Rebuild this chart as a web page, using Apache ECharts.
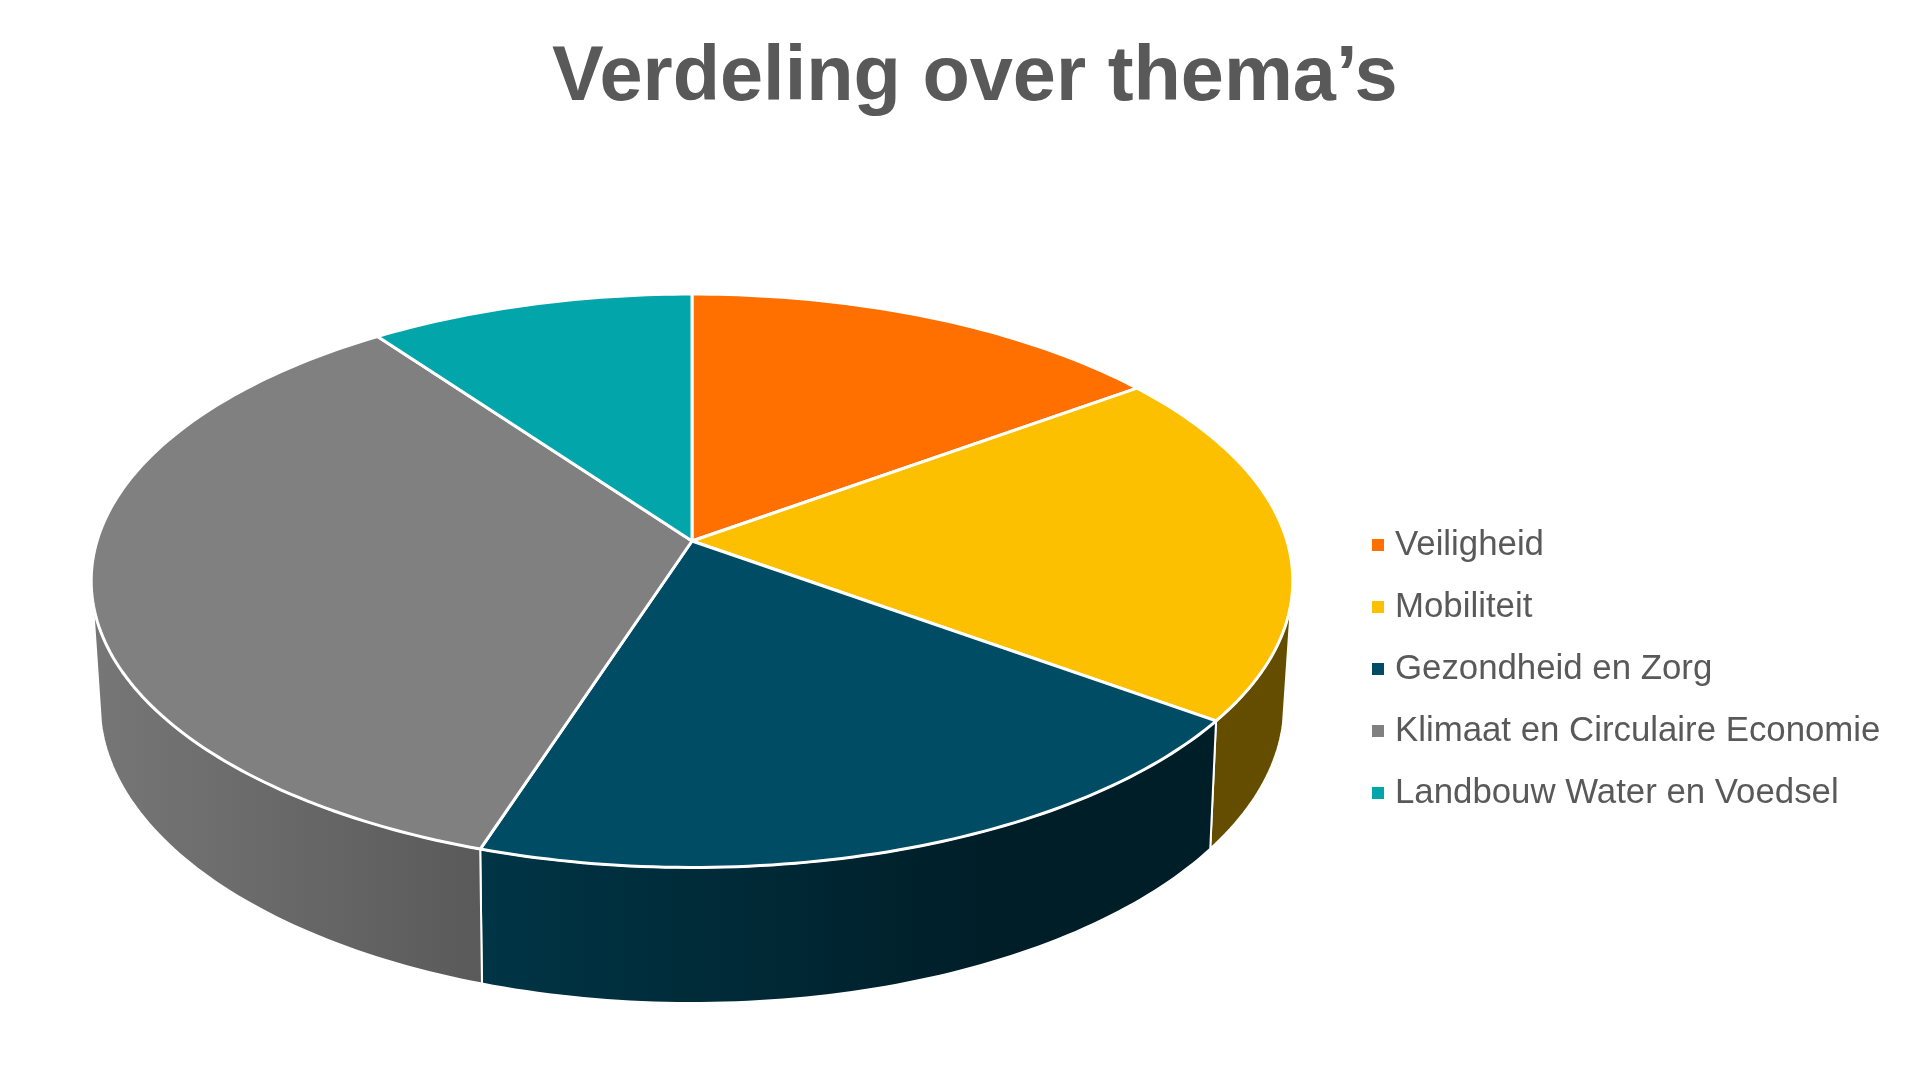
<!DOCTYPE html>
<html>
<head>
<meta charset="utf-8">
<title>Verdeling over thema's</title>
<script src="https://cdn.jsdelivr.net/npm/echarts@6/dist/echarts.min.js"></script>
<style>
  html, body { margin: 0; padding: 0; background: #fff; }
  #chart { width: 1920px; height: 1073px; }
</style>
</head>
<body>
<div id="chart"></div>
<script>
const themes = ['Veiligheid', 'Mobiliteit', 'Gezondheid en Zorg', 'Klimaat en Circulaire Economie', 'Landbouw Water en Voedsel'];
const shares = [15, 20, 20, 35, 10];
const sliceColors = ['#ff7000', '#fcc000', '#004c64', '#808080', '#02a6aa'];

// perspective of the pie: a circle seen from the front, top and bottom face
const topFace = { cx: 692, cy: 541, a: 595, b: 281.2, p: 0.1386 };
const bottomFace = { cx: 692, cy: 660.7, a: 586, b: 292.7, p: 0.145 };
// the side wall is only visible between these angles (degrees, clockwise from the back)
const wallFrom = 102;
const wallTo = 258;
// darkening of the side wall from left to right
const wallShade = [[0, 0.92], [0.34, 0.7], [0.8, 0.4], [1, 0.4]];

const total = shares.reduce((s, v) => s + v, 0);

function project(face, deg) {
  const t = deg * Math.PI / 180;
  const x = Math.sin(t), y = Math.cos(t);
  const w = 1 + face.p * y;
  return [face.cx + face.a * x / w, face.cy - face.b * y / w];
}

function arc(face, from, to) {
  const pts = [];
  const n = Math.max(1, Math.ceil(Math.abs(to - from)));
  for (let i = 0; i <= n; i++) {
    pts.push(project(face, from + (to - from) * i / n));
  }
  return pts;
}

function shade(hex, f) {
  const n = parseInt(hex.slice(1), 16);
  const c = [n >> 16, (n >> 8) & 255, n & 255].map(v => Math.round(v * f));
  return 'rgb(' + c.join(',') + ')';
}

function wallFill(color) {
  return new echarts.graphic.LinearGradient(100, 0, 1216, 0,
    wallShade.map(s => ({ offset: s[0], color: shade(color, s[1]) })), true);
}

function renderSlice(index, color) {
  return function (params, api) {
    const from = api.value(0) / total * 360;
    const to = api.value(1) / total * 360;
    const children = [];

    const wa = Math.max(from, wallFrom);
    const wb = Math.min(to, wallTo);
    if (wb > wa) {
      children.push({
        type: 'polygon',
        shape: { points: arc(topFace, wa, wb).concat(arc(bottomFace, wb, wa)) },
        style: { fill: wallFill(color), stroke: '#fff', lineWidth: 2, lineJoin: 'round' }
      });
    }

    children.push({
      type: 'polygon',
      shape: { points: [[topFace.cx, topFace.cy]].concat(arc(topFace, from, to)) },
      style: { fill: color, stroke: '#fff', lineWidth: 3, lineJoin: 'round' }
    });

    return { type: 'group', children: children };
  };
}

let running = 0;
const series = themes.map((name, i) => {
  const start = running;
  running += shares[i];
  return {
    type: 'custom',
    name: name,
    coordinateSystem: 'none',
    silent: true,
    animation: false,
    itemStyle: { color: sliceColors[i] },
    encode: { value: [0, 1] },
    data: [[start, running]],
    renderItem: renderSlice(i, sliceColors[i])
  };
});

const chart = echarts.init(document.getElementById('chart'), null, { renderer: 'canvas' });
chart.setOption({
  animation: false,
  backgroundColor: '#ffffff',
  title: {
    text: 'Verdeling over thema’s',
    left: 552,
    top: 40,
    padding: 0,
    textStyle: { color: '#595959', fontSize: 77.5, fontWeight: 'bold', fontFamily: 'Liberation Sans' }
  },
  legend: {
    orient: 'vertical',
    left: 1372,
    top: 524,
    padding: 0,
    icon: 'rect',
    itemWidth: 12,
    itemHeight: 12,
    itemGap: 20,
    selectedMode: false,
    data: themes,
    textStyle: {
      color: '#595959',
      fontSize: 34.8,
      lineHeight: 42,
      fontFamily: 'Liberation Sans',
      padding: [0, 0, 0, 6]
    }
  },
  series: series
});
</script>
</body>
</html>
